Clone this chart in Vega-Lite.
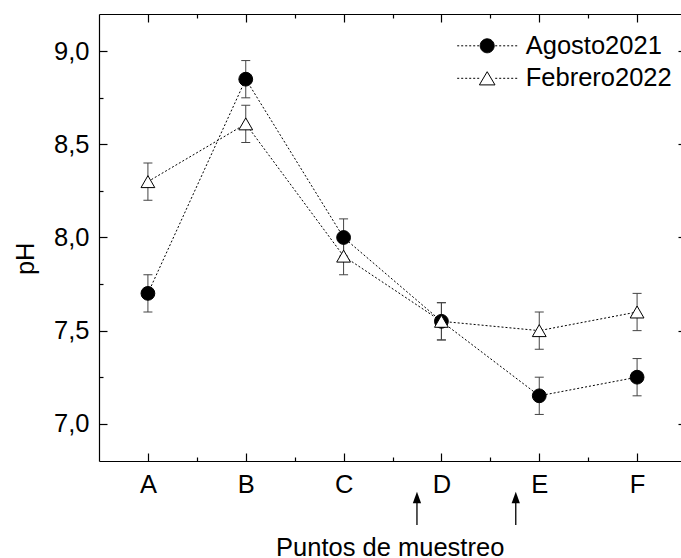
{
  "$schema": "https://vega.github.io/schema/vega-lite/v6.json",
  "width": 587,
  "height": 447,
  "autosize": {"type": "none"},
  "padding": {"left": 99, "top": 14, "right": 0, "bottom": 97},
  "background": "white",
  "config": {
    "view": {"stroke": null},
    "font": "Liberation Sans",
    "axis": {
      "grid": false,
      "domainColor": "black",
      "tickColor": "black",
      "domainWidth": 1.2,
      "tickWidth": 1.2,
      "labelFont": "Liberation Sans",
      "labelFontSize": 25.5,
      "labelColor": "black",
      "titleFont": "Liberation Sans",
      "titleFontSize": 25.5,
      "titleFontWeight": "normal",
      "titleColor": "black"
    }
  },
  "datasets": {
    "ph": [
      {"punto": "A", "pos": 0, "serie": "Agosto2021", "pH": 7.70, "lo": 7.60, "hi": 7.80},
      {"punto": "B", "pos": 1, "serie": "Agosto2021", "pH": 8.85, "lo": 8.75, "hi": 8.95},
      {"punto": "C", "pos": 2, "serie": "Agosto2021", "pH": 8.00, "lo": 7.90, "hi": 8.10},
      {"punto": "D", "pos": 3, "serie": "Agosto2021", "pH": 7.55, "lo": 7.45, "hi": 7.65},
      {"punto": "E", "pos": 4, "serie": "Agosto2021", "pH": 7.15, "lo": 7.05, "hi": 7.25},
      {"punto": "F", "pos": 5, "serie": "Agosto2021", "pH": 7.25, "lo": 7.15, "hi": 7.35},
      {"punto": "A", "pos": 0, "serie": "Febrero2022", "pH": 8.30, "lo": 8.20, "hi": 8.40},
      {"punto": "B", "pos": 1, "serie": "Febrero2022", "pH": 8.61, "lo": 8.51, "hi": 8.71},
      {"punto": "C", "pos": 2, "serie": "Febrero2022", "pH": 7.90, "lo": 7.80, "hi": 8.00},
      {"punto": "D", "pos": 3, "serie": "Febrero2022", "pH": 7.55, "lo": 7.45, "hi": 7.65},
      {"punto": "E", "pos": 4, "serie": "Febrero2022", "pH": 7.50, "lo": 7.40, "hi": 7.60},
      {"punto": "F", "pos": 5, "serie": "Febrero2022", "pH": 7.60, "lo": 7.50, "hi": 7.70}
    ],
    "flechas": [
      {"pos": 2.75},
      {"pos": 3.76}
    ]
  },
  "data": {"name": "ph"},
  "layer": [
    {
      "mark": {"type": "line", "color": "black", "strokeWidth": 1, "strokeDash": [2, 2]},
      "encoding": {
        "x": {
          "field": "pos", "type": "quantitative",
          "scale": {"domain": [-0.5, 5.5], "nice": false, "zero": false},
          "axis": {
            "orient": "bottom", "values": [0, 1, 2, 3, 4, 5],
            "labelExpr": "['A','B','C','D','E','F'][datum.value]",
            "tickSize": -8, "labelPadding": 19, "labelBaseline": "top",
            "title": "Puntos de muestreo", "titleX": 290.7, "titleY": 94,
            "titleAlign": "center", "titleBaseline": "alphabetic", "titleAngle": 0
          }
        },
        "y": {
          "field": "pH", "type": "quantitative",
          "scale": {"domain": [6.8, 9.2], "nice": false, "zero": false},
          "axis": {
            "orient": "left", "values": [7, 7.5, 8, 8.5, 9],
            "labelExpr": "replace(format(datum.value, '.1f'), '.', ',')",
            "tickSize": -8, "labelPadding": 18,
            "title": "pH", "titleX": -66, "titleY": 244.3, "titleAngle": 270,
            "titleAlign": "center", "titleBaseline": "alphabetic"
          }
        },
        "detail": {"field": "serie", "type": "nominal"}
      }
    },
    {
      "mark": {"type": "rule", "color": "#444444", "strokeWidth": 1},
      "encoding": {
        "x": {
          "field": "pos", "type": "quantitative",
          "axis": {"orient": "bottom", "values": [0.5, 1.5, 2.5, 3.5, 4.5], "tickSize": -4, "labels": false, "domain": false, "title": null}
        },
        "y": {
          "field": "lo", "type": "quantitative",
          "axis": {"orient": "left", "values": [7.25, 7.75, 8.25, 8.75], "tickSize": -4, "labels": false, "domain": false, "title": null}
        },
        "y2": {"field": "hi"}
      }
    },
    {
      "mark": {"type": "rule", "color": "#444444", "strokeWidth": 1, "xOffset": -4.5, "x2Offset": 4.5},
      "encoding": {
        "x": {
          "field": "pos", "type": "quantitative",
          "axis": {"orient": "top", "values": [0, 1, 2, 3, 4, 5], "tickSize": -8, "labels": false, "title": null}
        },
        "x2": {"field": "pos"},
        "y": {
          "field": "hi", "type": "quantitative",
          "axis": {"orient": "right", "values": [7, 7.5, 8, 8.5, 9], "tickSize": -8, "labels": false, "title": null}
        }
      }
    },
    {
      "mark": {"type": "rule", "color": "#444444", "strokeWidth": 1, "xOffset": -4.5, "x2Offset": 4.5},
      "encoding": {
        "x": {
          "field": "pos", "type": "quantitative",
          "axis": {"orient": "top", "values": [0.5, 1.5, 2.5, 3.5, 4.5], "tickSize": -4, "labels": false, "domain": false, "title": null}
        },
        "x2": {"field": "pos"},
        "y": {
          "field": "lo", "type": "quantitative",
          "axis": {"orient": "right", "values": [7.25, 7.75, 8.25, 8.75], "tickSize": -4, "labels": false, "domain": false, "title": null}
        }
      }
    },
    {
      "mark": {"type": "point", "filled": true, "size": 190, "stroke": "black", "strokeWidth": 1, "opacity": 1},
      "encoding": {
        "x": {"field": "pos", "type": "quantitative", "axis": null},
        "y": {"field": "pH", "type": "quantitative", "axis": null},
        "shape": {
          "field": "serie", "type": "nominal",
          "scale": {"domain": ["Agosto2021", "Febrero2022"], "range": ["circle", "triangle-up"]},
          "legend": null
        },
        "fill": {
          "field": "serie", "type": "nominal",
          "scale": {"range": ["black", "white"]},
          "legend": {
            "title": null, "orient": "none", "legendX": 357.7, "legendY": 16.8, "padding": 0,
            "symbolSize": 3600, "clipHeight": 30, "rowPadding": 2.5, "symbolOffset": 0,
            "labelFont": "Liberation Sans", "labelFontSize": 25.5, "labelColor": "black", "labelOffset": 8, "labelLimit": 400,
            "symbolStrokeColor": "black", "symbolStrokeWidth": 1, "symbolOpacity": 1,
            "encode": {
              "symbols": {
                "update": {
                  "shape": {"signal": "datum.value === 'Agosto2021' ? 'M-1 0L-0.9333 0M-0.8667 0L-0.8 0M-0.7333 0L-0.6667 0M-0.6 0L-0.5333 0M-0.4667 0L-0.4 0M-0.3333 0L-0.2667 0M0.2667 0L0.3333 0M0.4 0L0.4667 0M0.5333 0L0.6 0M0.6667 0L0.7333 0M0.8 0L0.8667 0M0.9333 0L1 0M-0.2333 0A0.2333 0.2333 0 1 0 0.2333 0A0.2333 0.2333 0 1 0 -0.2333 0Z' : 'M-1 0L-0.9333 0M-0.8667 0L-0.8 0M-0.7333 0L-0.6667 0M-0.6 0L-0.5333 0M-0.4667 0L-0.4 0M-0.3333 0L-0.2667 0M0.2667 0L0.3333 0M0.4 0L0.4667 0M0.5333 0L0.6 0M0.6667 0L0.7333 0M0.8 0L0.8667 0M0.9333 0L1 0M0 -0.22L-0.26 0.22L0.26 0.22Z'"},
                  "stroke": {"value": "black"},
                  "strokeWidth": {"value": 1}
                }
              }
            }
          }
        }
      }
    },
    {
      "data": {"name": "flechas"},
      "mark": {"type": "rule", "color": "black", "strokeWidth": 1.3, "clip": false},
      "encoding": {
        "x": {"field": "pos", "type": "quantitative", "axis": null},
        "y": {"datum": 6.456, "type": "quantitative", "axis": null},
        "y2": {"datum": 6.6}
      }
    },
    {
      "data": {"name": "flechas"},
      "mark": {"type": "point", "filled": true, "color": "black", "opacity": 1, "size": 133, "shape": "M0 -1L-0.72 1L0.72 1Z", "clip": false},
      "encoding": {
        "x": {"field": "pos", "type": "quantitative", "axis": null},
        "y": {"datum": 6.604, "type": "quantitative", "axis": null}
      }
    }
  ],
  "resolve": {"axis": {"x": "independent", "y": "independent"}}
}
